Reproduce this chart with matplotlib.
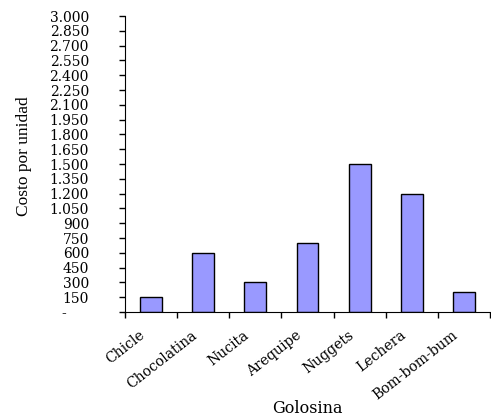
import matplotlib.pyplot as plt
import matplotlib.transforms as mtransforms
import numpy as np
from matplotlib.ticker import FuncFormatter, MultipleLocator

golosinas = ["Chicle", "Chocolatina", "Nucita", "Arequipe", "Nuggets", "Lechera", "Bom-bom-bum"]
costo = [150, 600, 300, 700, 1500, 1200, 200]


def miles(v, pos):
    # zero shown as a dash, thousands separated by a dot
    if v == 0:
        return "-     "
    return f"{int(v):,}".replace(",", ".")


def main():
    fig = plt.figure(figsize=(4.91, 4.18), dpi=100)
    ax = fig.add_axes([125 / 491, 106 / 418, 365 / 491, 296 / 418])

    x = np.arange(len(golosinas))
    ax.bar(x, costo, width=0.42, color="#9999ff", edgecolor="black", linewidth=1)

    ax.set_xlim(-0.5, len(golosinas) - 0.5)
    ax.set_ylim(0, 3000)
    ax.yaxis.set_major_locator(MultipleLocator(150))
    ax.yaxis.set_major_formatter(FuncFormatter(miles))

    # category names drawn as text, slanted and nudged left of the centres
    ax.set_xticks(x)
    ax.set_xticklabels([])
    offset = mtransforms.ScaledTranslation(-0.12, -0.16, fig.dpi_scale_trans)
    for xi, name in zip(x, golosinas):
        ax.text(xi, 0, name, transform=ax.get_xaxis_transform() + offset,
                rotation=38, ha="right", va="top", rotation_mode="anchor",
                family="DejaVu Serif", fontsize=10)
    ax.set_xticks(np.arange(-0.5, len(golosinas), 1), minor=True)
    ax.tick_params(axis="x", which="major", length=0)
    ax.tick_params(axis="x", which="minor", length=4, width=1, direction="out")
    ax.tick_params(axis="y", length=4, width=1, direction="out", pad=22)
    for lab in ax.get_yticklabels():
        lab.set_family("DejaVu Serif")
        lab.set_fontsize(10)

    ax.spines["top"].set_visible(False)
    ax.spines["right"].set_visible(False)

    ax.set_ylabel("Costo por unidad", family="Liberation Serif", fontsize=12.5)
    ax.yaxis.set_label_coords(-0.255, 0.527)
    ax.set_xlabel("Golosina", family="DejaVu Serif", fontsize=11.5)
    ax.xaxis.set_label_coords(0.501, -0.297)

    fig.savefig("out.png", dpi=100)


if __name__ == "__main__":
    main()
